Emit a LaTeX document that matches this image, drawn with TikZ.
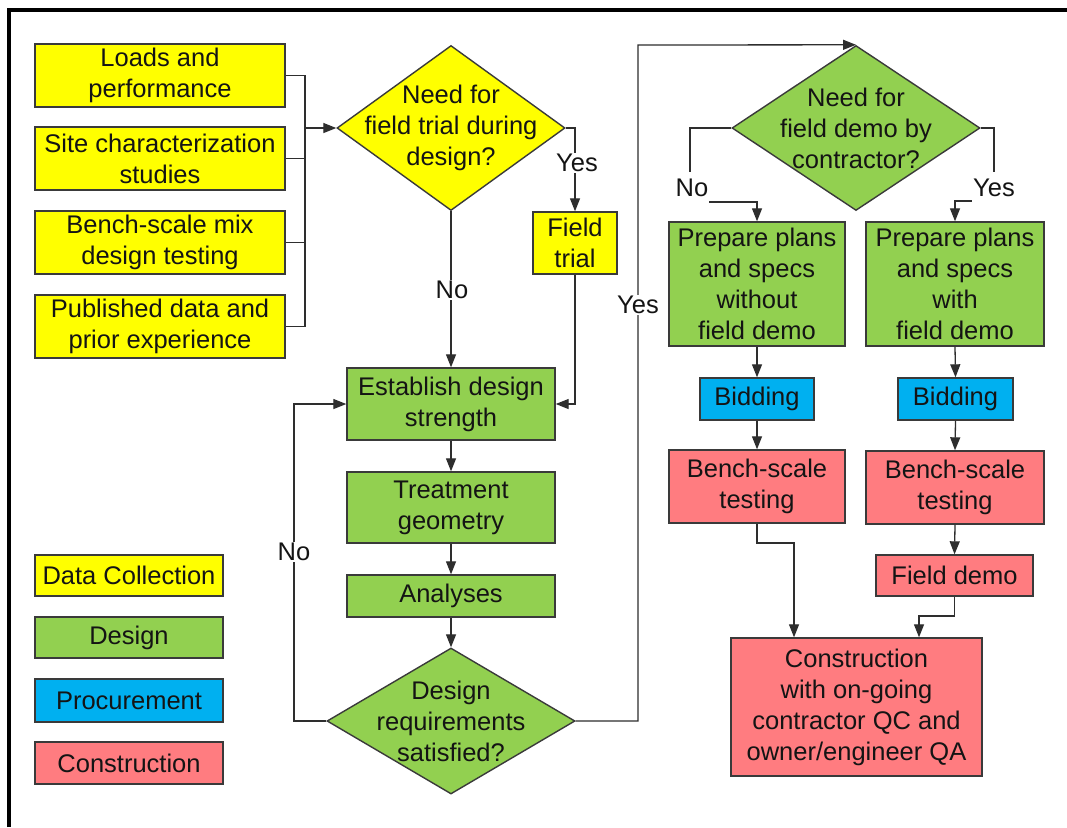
\documentclass[tikz,border=0pt]{standalone}
\usepackage{fontspec}
\setmainfont{Liberation Sans}
\usetikzlibrary{arrows.meta,shapes.geometric}
\definecolor{cyel}{HTML}{FFFF00}
\definecolor{cgrn}{HTML}{92D050}
\definecolor{cblu}{HTML}{00B0F0}
\definecolor{cred}{HTML}{FF7C80}
\definecolor{cbrd}{HTML}{3A3A3A}
\definecolor{ctxt}{HTML}{141414}
\tikzset{
  base/.style={font=\fontsize{25.5}{31}\selectfont, text=ctxt, align=center, inner sep=0pt},
  bx/.style={base, draw=cbrd, line width=1.4pt, rectangle},
  dia/.style={draw=cbrd, line width=1.4pt, diamond, inner sep=0pt, shape aspect=1},
  txt/.style={base},
  lbl/.style={base, fill=white, inner sep=1pt},
  conn/.style={draw=cbrd!80!black, line width=1.3pt},
  arr/.style={conn, -{Triangle[length=13pt,width=10pt]}},
}
\begin{document}
\begin{tikzpicture}[x=1pt,y=-1pt]
\useasboundingbox (0,0) rectangle (1067,827);
\fill[white] (0,0) rectangle (1067,827);
% frame
\draw[line width=4pt, line join=miter] (9,827) -- (9,10) -- (1067,10);

% data collection boxes
\node[bx, fill=cyel, minimum width=250pt, minimum height=63pt] (b1) at (160,75.5) {Loads and\\performance};
\node[bx, fill=cyel, minimum width=250pt, minimum height=63pt] (b2) at (160,158.5) {Site characterization\\studies};
\node[bx, fill=cyel, minimum width=250pt, minimum height=63pt] (b3) at (160,242.5) {Bench-scale mix\\design testing};
\node[bx, fill=cyel, minimum width=250pt, minimum height=63pt] (b4) at (160,326.5) {Published data and\\prior experience};

% decision 1
\node[dia, fill=cyel, minimum width=228pt, minimum height=165pt] (d1) at (451,128) {};
\node[txt] (d1t) at (d1.center) {Need for\\field trial during\\design?};
\node[bx, fill=cyel, minimum width=84pt, minimum height=62pt] (ft) at (575,243) {Field\\trial};

% design chain
\node[bx, fill=cgrn, minimum width=208pt, minimum height=72pt] (est) at (451,404) {Establish design\\strength};
\node[bx, fill=cgrn, minimum width=208pt, minimum height=71pt] (treat) at (451,507.5) {Treatment\\geometry};
\node[bx, fill=cgrn, minimum width=208pt, minimum height=42pt] (anal) at (451,596) {Analyses};
\node[dia, fill=cgrn, minimum width=248pt, minimum height=146pt] (d2) at (451,721) {};
\node[txt] (d2t) at (d2.center) {Design\\requirements\\satisfied?};

% decision 3
\node[dia, fill=cgrn, minimum width=248pt, minimum height=165pt] (d3) at (856,128) {};
\node[txt] (d3t) at (d3.center) {Need for\\field demo by\\contractor?};

\node[bx, fill=cgrn, minimum width=176pt, minimum height=124pt] (p1) at (757,284) {Prepare plans\\and specs\\without\\field demo};
\node[bx, fill=cgrn, minimum width=178pt, minimum height=124pt] (p2) at (955,284) {Prepare plans\\and specs\\with\\field demo};
\node[bx, fill=cblu, minimum width=114pt, minimum height=42pt] (bid1) at (757,399) {Bidding};
\node[bx, fill=cblu, minimum width=115pt, minimum height=42pt] (bid2) at (955.5,399) {Bidding};
\node[bx, fill=cred, minimum width=176pt, minimum height=73pt] (bench1) at (757,486.5) {Bench-scale\\testing};
\node[bx, fill=cred, minimum width=178pt, minimum height=73pt] (bench2) at (955,487.5) {Bench-scale\\testing};
\node[bx, fill=cred, minimum width=157pt, minimum height=41pt] (fdemo) at (954.5,575.5) {Field demo};
\node[bx, fill=cred, minimum width=251pt, minimum height=138pt] (cons) at (856.5,707) {Construction\\with on-going\\contractor QC and\\owner/engineer QA};

% legend
\node[bx, fill=cyel, minimum width=188pt, minimum height=41pt] (lg1) at (129,575.5) {Data Collection};
\node[bx, fill=cgrn, minimum width=188pt, minimum height=41pt] (lg2) at (129,637.5) {Design};
\node[bx, fill=cblu, minimum width=188pt, minimum height=43pt] (lg3) at (129,700.5) {Procurement};
\node[bx, fill=cred, minimum width=188pt, minimum height=42pt] (lg4) at (129,763) {Construction};

% connectors: data collection bracket
\coordinate (brk) at (305,0);
\draw[conn] (b1.east) -- (b1.east -| brk) -- (b4.east -| brk) -- (b4.east);
\draw[conn] (b2.east) -- (b2.east -| brk);
\draw[conn] (b3.east) -- (b3.east -| brk);
\draw[arr] (d1.west -| brk) -- (d1.west);

% decision 1 branches
\coordinate (y1) at (575,128);
\draw[arr] (d1.east) -- (y1) -- (ft.north);
\node[lbl] (yes1) at (577,163) {Yes};
\draw[arr] (ft.south) |- (est.east);
\draw[arr] (d1.south) -- (est.north);
\node[lbl] (no1) at (452,290) {No};

% design chain
\draw[arr] (est.south) -- (treat.north);
\draw[arr] (treat.south) -- (anal.north);
\draw[arr] (anal.south) -- (d2.north);
\coordinate (nl) at (294,721);
\draw[arr] (d2.west) -- (nl) |- (est.west);
\node[lbl] (no2) at (294,552) {No};
\coordinate (yx) at (638,45);
\draw[arr] (d2.east) -| (yx) -- (d3.north);
\node[lbl] (yes2) at (638,305) {Yes};

% decision 3 branches
\coordinate (n3) at (690,202);
\draw[arr] (d3.west) -| (n3) -| (p1.north);
\node[lbl, inner sep=0pt, minimum height=32pt, minimum width=34pt] (no3) at (692,188) {No};
\coordinate (y3) at (994,201);
\draw[arr] (d3.east) -| (y3) -| (p2.north);
\node[lbl, inner sep=0pt, minimum height=32pt, minimum width=44pt] (yes3) at (994,188) {Yes};

% right chains
\draw[arr] (p1.south) -- (bid1.north);
\draw[arr] (bid1.south) -- (bench1.north);
\draw[arr] (p2.south) -- (bid2.north);
\draw[arr] (bid2.south) -- (bench2.north);
\draw[arr] (bench2.south) -- (fdemo.north);
\coordinate (j1) at (794,543);
\draw[arr] (bench1.south) |- (j1) -- (j1 |- cons.north);
\coordinate (j2) at (919,616);
\draw[arr] (fdemo.south) |- (j2) -- (j2 |- cons.north);
\end{tikzpicture}
\end{document}
